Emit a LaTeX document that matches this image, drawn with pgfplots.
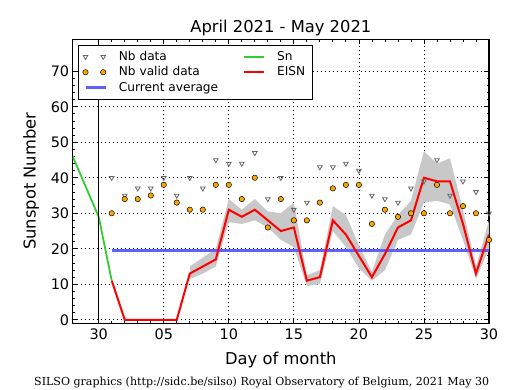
\documentclass[border=0pt]{standalone}
\usepackage{fontspec}
\setmainfont{DejaVu Sans}
\newfontfamily\footfont{DejaVu Serif}
\usepackage{pgfplots}
\pgfplotsset{compat=1.18}
\definecolor{avgblue}{RGB}{95,95,250}
\definecolor{sngreen}{RGB}{50,205,50}
\definecolor{valorange}{RGB}{255,165,0}
\definecolor{bandgray}{RGB}{200,200,200}
\pgfplotsset{
  mytwomarks/.style={legend image code/.code={\draw[##1] plot coordinates {(0bp,0bp) (17.7bp,0bp)};}},
  myline/.style={legend image code/.code={\draw[##1] (0bp,0bp) -- (20bp,0bp);}},
}
\begin{document}
\begin{tikzpicture}
\path (0,0) rectangle (515bp,390bp);
\begin{axis}[
  at={(72.7bp,66.7bp)}, anchor=south west,
  scale only axis, width=416.3bp, height=284bp,
  xmin=-2, xmax=30, ymin=-1, ymax=79,
  xtick={0,5,...,30}, xticklabels={30,05,10,15,20,25,30},
  ytick={0,10,...,70},
  minor x tick num=4, minor y tick num=4,
  tick align=inside, major tick length=5bp, minor tick length=2.5bp,
  every tick/.style={black, line width=0.8bp},
  grid=major,
  major grid style={black, line width=0.8bp, dash pattern=on 1bp off 3bp},
  axis line style={line width=1.2bp},
  /pgf/number format/assume math mode=true,
  tick label style={font=\fontsize{14.5}{17}\selectfont},
  xticklabel style={yshift=-2bp},
  every axis title shift=0pt,
  title={April 2021 - May 2021},
  title style={font=\fontsize{16.4}{19}\selectfont, at={(axis description cs:0.5,1)}, anchor=base, yshift=7.3bp},
  xlabel={Day of month},
  xlabel style={font=\fontsize{16.4}{19}\selectfont, at={(axis description cs:0.5,0)}, anchor=base, yshift=-41.5bp},
  ylabel={Sunspot Number},
  ylabel style={font=\fontsize{16.4}{19}\selectfont, at={(axis description cs:0,0.5)}, anchor=center, yshift=41.7bp},
  legend columns=2,
  legend cell align=left,
  legend style={at={(axis description cs:0,1)}, anchor=north west, xshift=5.6bp, yshift=-5.7bp,
    draw=black, line width=1bp, fill=white,
    font=\fontsize{12.2}{14}\selectfont,
    inner xsep=4bp, inner ysep=3.5bp, row sep=0bp,
    nodes={inner xsep=3bp, inner ysep=1.5bp, text height=9.5bp, text depth=3bp},
    /tikz/every odd column/.append style={column sep=9bp},
    /tikz/every even column/.append style={column sep=22bp}},
]
% uncertainty band (upper edge, then lower edge backwards)
\addplot[fill=bandgray, draw=none, forget plot] coordinates {
 (7,15) (8,17.5) (9,20) (10,34) (11,31) (12,34) (13,30.5) (14,30) (15,33)
 (16,12.5) (17,14) (18,32) (19,29.5) (20,21) (21,13.5) (22,24) (23,29.5)
 (24,33.5) (25,47.5) (26,44) (27,45.5) (28,31) (29,15) (30,28)
 (30,20) (29,11.5) (28,22.5) (27,32.5) (26,33.5) (25,33) (24,24) (23,22.5)
 (22,14) (21,11) (20,14.5) (19,20.5) (18,25) (17,10) (16,9.5) (15,20.5)
 (14,22.5) (13,26) (12,28) (11,27) (10,27.5) (9,15) (8,13) (7,11.5)} -- cycle;
% Sn
\addplot[sngreen, line width=1.8bp, forget plot] coordinates {
 (-2,46) (-1,37.5) (0,29) (1,11)};
% current average
\addplot[avgblue, line width=2.8bp, forget plot] coordinates {(1,19.6) (30,19.6)};
% EISN
\addplot[red, line width=2bp, forget plot] coordinates {
 (1,11) (2,0) (3,0) (4,0) (5,0) (6,0) (7,13) (8,15) (9,17) (10,31) (11,29)
 (12,31) (13,28) (14,25) (15,26) (16,11) (17,12) (18,28) (19,24) (20,18)
 (21,12) (22,18.5) (23,26) (24,28) (25,40) (26,39) (27,39) (28,27) (29,13) (30,24)};
% vertical line at end of April
\addplot[black, line width=1.5bp, forget plot] coordinates {(0,-1) (0,79)};
% Nb data
\addplot[only marks, mark=triangle, mark size=2.7bp,
  mark options={rotate=180, draw=black!60, fill=white, line width=0.8bp}, forget plot] coordinates {
 (1,40) (2,35) (3,37) (4,37) (5,40) (6,35) (7,40) (8,37) (9,45) (10,44) (11,44)
 (12,47) (13,34) (14,40) (15,31) (16,33) (17,43) (18,43) (19,44) (20,42)
 (21,35) (22,34) (23,33) (24,37) (25,39) (26,45) (27,35) (28,39) (29,36) (30,30)};
% Nb valid data
\addplot[only marks, mark=*, mark size=2.7bp,
  mark options={draw=black, fill=valorange, line width=0.5bp}, forget plot] coordinates {
 (1,30) (2,34) (3,34) (4,35) (5,38) (6,33) (7,31) (8,31) (9,38) (10,38) (11,34)
 (12,40) (13,26) (14,34) (15,28) (16,28) (17,33) (18,37) (19,38) (20,38)
 (21,27) (22,31) (23,29) (24,30) (25,30) (26,38) (27,30) (28,32) (29,30) (30,22.5)};
% legend
\addlegendimage{only marks, mark=triangle, mark size=2.7bp,
  mark options={rotate=180, draw=black!60, fill=white, line width=0.8bp}, mytwomarks}
\addlegendentry{Nb data}
\addlegendimage{sngreen, line width=1.8bp, myline}
\addlegendentry{Sn}
\addlegendimage{only marks, mark=*, mark size=2.7bp,
  mark options={draw=black, fill=valorange, line width=0.5bp}, mytwomarks}
\addlegendentry{Nb valid data}
\addlegendimage{red, line width=2bp, myline}
\addlegendentry{EISN}
\addlegendimage{avgblue, line width=2.8bp, myline}
\addlegendentry{Current average}
\end{axis}
\node[font=\footfont\fontsize{11.1}{13}\selectfont, anchor=base, inner sep=0pt] at (261.7bp,4.4bp)
  {SILSO graphics (http://sidc.be/silso) Royal Observatory of Belgium, 2021 May 30};
\end{tikzpicture}
\end{document}
